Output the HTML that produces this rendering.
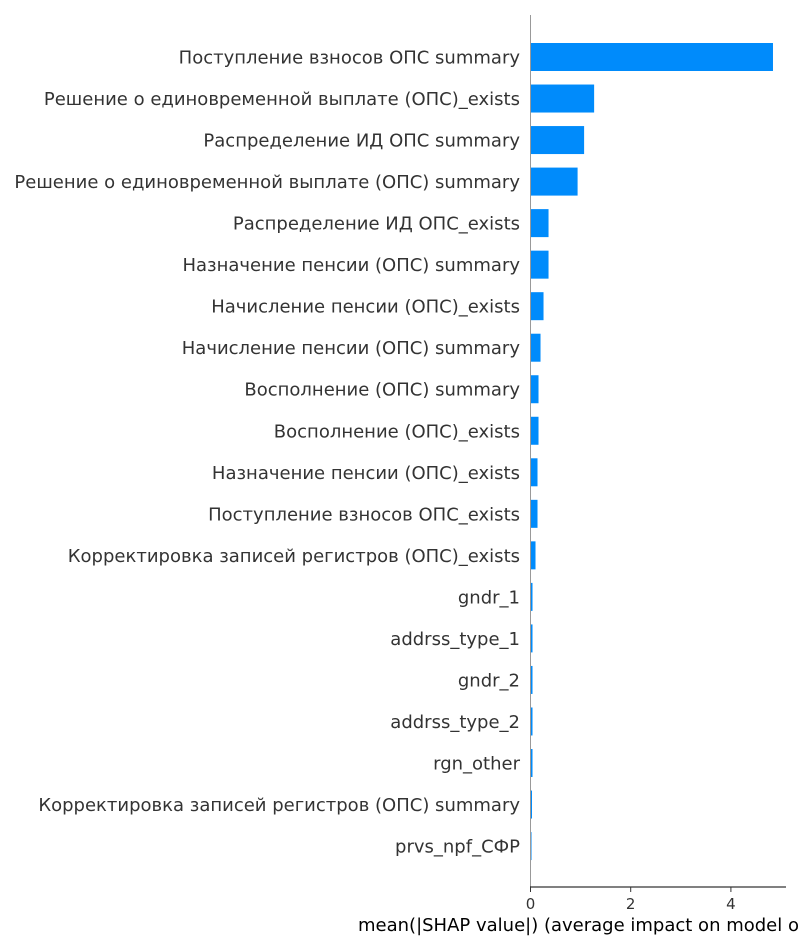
<!DOCTYPE html>
<html><head><meta charset="utf-8"><style>
html,body{margin:0;padding:0;background:#fff;}
svg{display:block;font-family:"DejaVu Sans","Liberation Sans",sans-serif;}
</style></head><body>
<svg id="chart" width="800" height="950" viewBox="0 0 800 950" xmlns="http://www.w3.org/2000/svg">
<g id="bars"></g>
<g id="labels"></g>
<line x1="530.5" y1="15" x2="530.5" y2="887" stroke="#999" stroke-width="1"/>
<line x1="530" y1="887" x2="786" y2="887" stroke="#000" stroke-width="1"/>
<g id="xticks"></g>
<text x="358" y="931" font-size="18" fill="#000">mean(|SHAP value|) (average impact on model output magnitude)</text>
</svg>
<script>
const features = ["Поступление взносов ОПС summary","Решение о единовременной выплате (ОПС)_exists","Распределение ИД ОПС summary","Решение о единовременной выплате (ОПС) summary","Распределение ИД ОПС_exists","Назначение пенсии (ОПС) summary","Начисление пенсии (ОПС)_exists","Начисление пенсии (ОПС) summary","Восполнение (ОПС) summary","Восполнение (ОПС)_exists","Назначение пенсии (ОПС)_exists","Поступление взносов ОПС_exists","Корректировка записей регистров (ОПС)_exists","gndr_1","addrss_type_1","gndr_2","addrss_type_2","rgn_other","Корректировка записей регистров (ОПС) summary","prvs_npf_СФР"];
const values = [4.84,1.27,1.07,0.94,0.36,0.36,0.26,0.2,0.16,0.16,0.14,0.14,0.1,0.04,0.04,0.04,0.04,0.04,0.03,0.02];
const tickValues = [0,2,4];
const tickLabels = ["0","2","4"];
const NS="http://www.w3.org/2000/svg";
const x0=530.5, pxPerUnit=50.1, y0=57, step=41.53, barH=28;
function xScale(v){return x0+v*pxPerUnit;}
function yScale(i){return y0+i*step;}
const bars=document.getElementById('bars'), labels=document.getElementById('labels'), xt=document.getElementById('xticks');
features.forEach((f,i)=>{
  const r=document.createElementNS(NS,'rect');
  
  
  r.setAttribute('x',x0);r.setAttribute('y',yScale(i)-barH/2);
  r.setAttribute('width',Math.max(0,xScale(values[i])-x0));r.setAttribute('height',barH);
  r.setAttribute('fill','#008bfb');bars.appendChild(r);
  const t=document.createElementNS(NS,'text');
  
  
  t.setAttribute('x',520);t.setAttribute('y',yScale(i)+6.5);
  t.setAttribute('text-anchor','end');t.setAttribute('font-size','18');t.setAttribute('fill','#333');
  t.textContent=f;labels.appendChild(t);
});
tickValues.forEach((v,i)=>{
  const l=document.createElementNS(NS,'line');
  
  
  l.setAttribute('x1',xScale(v));l.setAttribute('x2',xScale(v));l.setAttribute('y1',887);l.setAttribute('y2',892);
  l.setAttribute('stroke','#333');xt.appendChild(l);
  const t=document.createElementNS(NS,'text');
  
  
  t.setAttribute('x',xScale(v));t.setAttribute('y',909);t.setAttribute('text-anchor','middle');
  t.setAttribute('font-size','15');t.setAttribute('fill','#333');t.textContent=tickLabels[i];xt.appendChild(t);
});
</script>
</body></html>
